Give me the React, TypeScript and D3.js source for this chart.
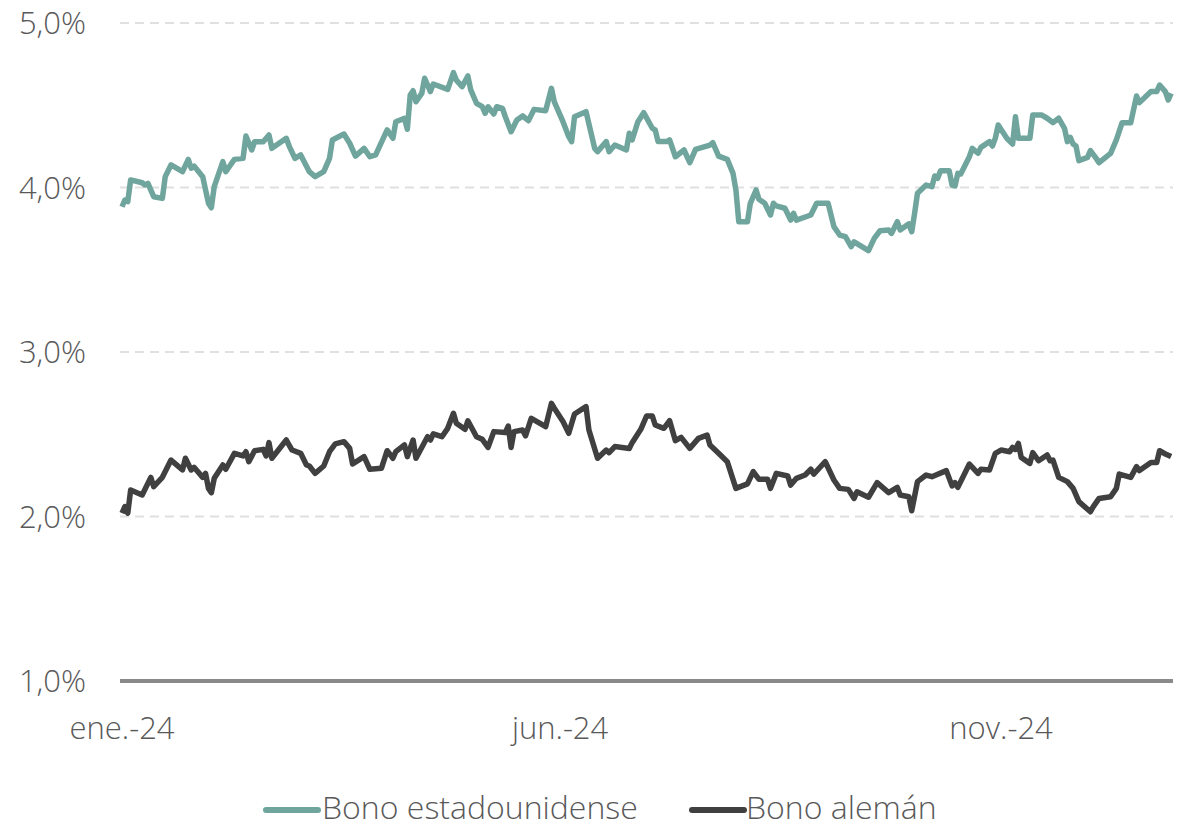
import React from "react";
import * as d3 from "d3";

// [day of 2024 (0 = 1 Jan), yield %]
const usBond: [number, number][] = [
  [0, 3.883], [1, 3.924], [2, 3.914], [3, 4.046], [7, 4.029], [8, 4.015], [9, 4.025], [11, 3.944], [14, 3.934],
  [15, 4.066], [17, 4.137], [21, 4.096], [23, 4.171], [24, 4.117], [25, 4.13], [28, 4.066], [30, 3.904], [31, 3.877],
  [32, 4.005], [35, 4.157], [36, 4.096], [39, 4.171], [42, 4.177], [43, 4.313], [45, 4.228], [46, 4.278], [49, 4.278],
  [51, 4.319], [52, 4.238], [57, 4.299], [58, 4.252], [60, 4.177], [62, 4.198], [65, 4.096], [67, 4.066], [70, 4.096],
  [72, 4.177], [73, 4.289], [77, 4.325], [79, 4.269], [81, 4.191], [84, 4.238], [86, 4.187], [88, 4.198], [92, 4.35],
  [94, 4.299], [95, 4.4], [98, 4.42], [99, 4.354], [100, 4.562], [101, 4.588], [102, 4.521], [104, 4.572], [105, 4.664],
  [107, 4.583], [108, 4.629], [113, 4.597], [115, 4.698], [116, 4.653], [118, 4.613], [120, 4.678], [121, 4.593],
  [123, 4.512], [125, 4.491], [126, 4.451], [127, 4.491], [129, 4.447], [130, 4.491], [132, 4.481], [133, 4.43],
  [135, 4.339], [137, 4.41], [139, 4.435], [141, 4.406], [143, 4.475], [147, 4.467], [149, 4.603], [150, 4.521],
  [153, 4.4], [155, 4.309], [156, 4.279], [157, 4.43], [161, 4.461], [164, 4.238], [165, 4.218], [168, 4.279],
  [169, 4.218], [171, 4.258], [175, 4.228], [176, 4.33], [177, 4.289], [179, 4.4], [181, 4.455], [184, 4.36],
  [185, 4.35], [186, 4.279], [189, 4.279], [190, 4.289], [192, 4.187], [195, 4.228], [197, 4.151], [199, 4.232],
  [204, 4.258], [205, 4.272], [207, 4.191], [210, 4.171], [212, 4.086], [213, 3.985], [214, 3.792], [217, 3.792],
  [218, 3.904], [220, 3.985], [221, 3.928], [223, 3.904], [225, 3.833], [226, 3.904], [227, 3.888], [230, 3.874],
  [232, 3.802], [233, 3.843], [234, 3.802], [239, 3.833], [241, 3.904], [245, 3.904], [247, 3.762], [249, 3.711],
  [251, 3.701], [253, 3.64], [254, 3.67], [259, 3.616], [261, 3.691], [263, 3.737], [266, 3.742], [267, 3.721],
  [269, 3.792], [270, 3.742], [273, 3.779], [274, 3.731], [275, 3.843], [276, 3.965], [279, 4.015], [281, 4.005],
  [282, 4.07], [283, 4.056], [284, 4.102], [287, 4.102], [288, 4.015], [289, 4.009], [290, 4.086], [291, 4.082],
  [294, 4.187], [295, 4.238], [297, 4.208], [298, 4.244], [301, 4.279], [302, 4.252], [303, 4.299], [304, 4.38],
  [307, 4.299], [309, 4.264], [310, 4.43], [311, 4.299], [315, 4.299], [316, 4.441], [319, 4.441], [321, 4.421],
  [323, 4.394], [325, 4.421], [327, 4.36], [328, 4.279], [329, 4.305], [330, 4.264], [331, 4.252], [332, 4.163],
  [335, 4.183], [336, 4.224], [338, 4.177], [339, 4.151], [343, 4.208], [345, 4.289], [347, 4.394], [350, 4.394],
  [352, 4.556], [353, 4.516], [357, 4.583], [359, 4.583], [360, 4.623], [362, 4.583], [363, 4.532], [364, 4.572],
];

const deBond: [number, number][] = [
  [0, 2.02], [1, 2.06], [2, 2.02], [3, 2.161], [7, 2.131], [10, 2.238], [11, 2.181], [14, 2.238], [17, 2.343],
  [21, 2.283], [22, 2.354], [24, 2.283], [25, 2.299], [28, 2.238], [29, 2.262], [30, 2.171], [31, 2.145], [32, 2.232],
  [35, 2.313], [36, 2.287], [39, 2.384], [42, 2.368], [43, 2.394], [44, 2.333], [46, 2.4], [49, 2.408], [50, 2.368],
  [51, 2.449], [52, 2.354], [57, 2.465], [59, 2.404], [62, 2.384], [64, 2.313], [65, 2.307], [67, 2.262], [70, 2.307],
  [72, 2.394], [74, 2.441], [77, 2.455], [79, 2.414], [80, 2.319], [84, 2.364], [86, 2.287], [90, 2.293], [92, 2.4],
  [94, 2.354], [95, 2.394], [98, 2.435], [99, 2.364], [101, 2.465], [102, 2.354], [106, 2.485], [107, 2.465],
  [108, 2.502], [111, 2.485], [113, 2.536], [115, 2.627], [116, 2.567], [119, 2.53], [120, 2.582], [123, 2.485],
  [125, 2.469], [127, 2.42], [129, 2.516], [133, 2.51], [134, 2.55], [135, 2.42], [136, 2.516], [139, 2.526],
  [140, 2.49], [142, 2.597], [147, 2.546], [149, 2.688], [150, 2.658], [153, 2.577], [155, 2.506], [157, 2.623],
  [161, 2.668], [162, 2.526], [165, 2.354], [168, 2.404], [169, 2.388], [171, 2.425], [176, 2.414], [177, 2.449],
  [180, 2.53], [182, 2.611], [184, 2.611], [185, 2.556], [188, 2.536], [190, 2.582], [192, 2.461], [194, 2.481],
  [197, 2.414], [200, 2.475], [203, 2.495], [204, 2.435], [207, 2.384], [210, 2.333], [213, 2.171], [217, 2.198],
  [219, 2.273], [221, 2.226], [224, 2.226], [225, 2.171], [227, 2.262], [231, 2.246], [232, 2.191], [234, 2.232],
  [237, 2.252], [239, 2.287], [240, 2.258], [244, 2.333], [247, 2.222], [249, 2.171], [252, 2.165], [254, 2.11],
  [255, 2.15], [259, 2.117], [262, 2.206], [266, 2.145], [269, 2.177], [270, 2.131], [273, 2.12], [274, 2.035],
  [276, 2.212], [279, 2.252], [281, 2.242], [286, 2.279], [288, 2.186], [289, 2.206], [290, 2.177], [294, 2.319],
  [297, 2.262], [298, 2.287], [301, 2.283], [303, 2.384], [305, 2.404], [308, 2.394], [309, 2.42], [310, 2.408],
  [311, 2.444], [312, 2.359], [315, 2.323], [316, 2.388], [318, 2.339], [321, 2.374], [322, 2.339], [323, 2.343],
  [325, 2.238], [328, 2.212], [330, 2.171], [332, 2.09], [336, 2.029], [337, 2.06], [339, 2.11], [343, 2.12],
  [345, 2.171], [346, 2.258], [350, 2.238], [352, 2.303], [353, 2.279], [357, 2.328], [359, 2.328], [360, 2.4],
  [362, 2.38], [364, 2.364],
];

const yTicks = [1, 2, 3, 4, 5];
const xTicks: [string, string][] = [
  ["2024-01-01", "ene.-24"],
  ["2024-06-01", "jun.-24"],
  ["2024-11-01", "nov.-24"],
];
const seriesNames = ["Bono estadounidense", "Bono alemán"];

const START = new Date(2024, 0, 1);
const TEAL = "#6fa59d";
const DARK = "#404040";
const TEXT = "#595959";
const FONT = "'Open Sans', sans-serif";

export default function App() {
  const W = 1183;
  const H = 827;
  const left = 120;
  const right = 1173;
  const x = d3.scaleTime().domain([START, new Date(2024, 11, 31)]).range([122, 1174]);
  const y = d3.scaleLinear().domain([1, 5]).range([681, 23]);
  const toDate = (d: number) => d3.timeDay.offset(START, d);
  const line = d3
    .line<[number, number]>()
    .x((p) => x(toDate(p[0])))
    .y((p) => y(p[1]));
  const parse = d3.timeParse("%Y-%m-%d");
  const fmt = (v: number) => v.toFixed(1).replace(".", ",") + "%";

  return (
    <svg
      width={W}
      height={H}
      style={{ position: "absolute", left: 0, top: 0, display: "block", background: "#fff" }}
      fontFamily={FONT}
    >
      {yTicks.map((t) =>
        t === 1 ? null : (
          <line
            key={"g" + t}
            x1={left}
            x2={right}
            y1={y(t)}
            y2={y(t)}
            stroke="#e0e0e0"
            strokeWidth={2}
            strokeDasharray="9 6"
          />
        )
      )}
      <line x1={left} x2={right} y1={y(1)} y2={y(1)} stroke="#8a8a8a" strokeWidth={4} />
      {yTicks.map((t) => (
        <text
          key={"t" + t}
          x={86}
          y={y(t)}
          dy="0.36em"
          textAnchor="end"
          fontSize={31}
          fontWeight={300}
          fill={TEXT}
        >
          {fmt(t)}
        </text>
      ))}
      {xTicks.map(([d, label]) => (
        <text
          key={label}
          x={x(parse(d) as Date)}
          y={739}
          textAnchor="middle"
          fontSize={31}
          fontWeight={300}
          fill={TEXT}
        >
          {label}
        </text>
      ))}
      <path d={line(usBond) || ""} fill="none" stroke={TEAL} strokeWidth={5.5} strokeLinejoin="round" />
      <path d={line(deBond) || ""} fill="none" stroke={DARK} strokeWidth={5.5} strokeLinejoin="round" />
      <g>
        <line x1={266} x2={318} y1={810} y2={810} stroke={TEAL} strokeWidth={6} strokeLinecap="round" />
        <text x={322} y={819} fontSize={32} fontWeight={300} fill={TEXT}>
          {seriesNames[0]}
        </text>
        <line x1={692} x2={744} y1={810} y2={810} stroke={DARK} strokeWidth={6} strokeLinecap="round" />
        <text x={746} y={819} fontSize={32} fontWeight={300} fill={TEXT}>
          {seriesNames[1]}
        </text>
      </g>
    </svg>
  );
}
